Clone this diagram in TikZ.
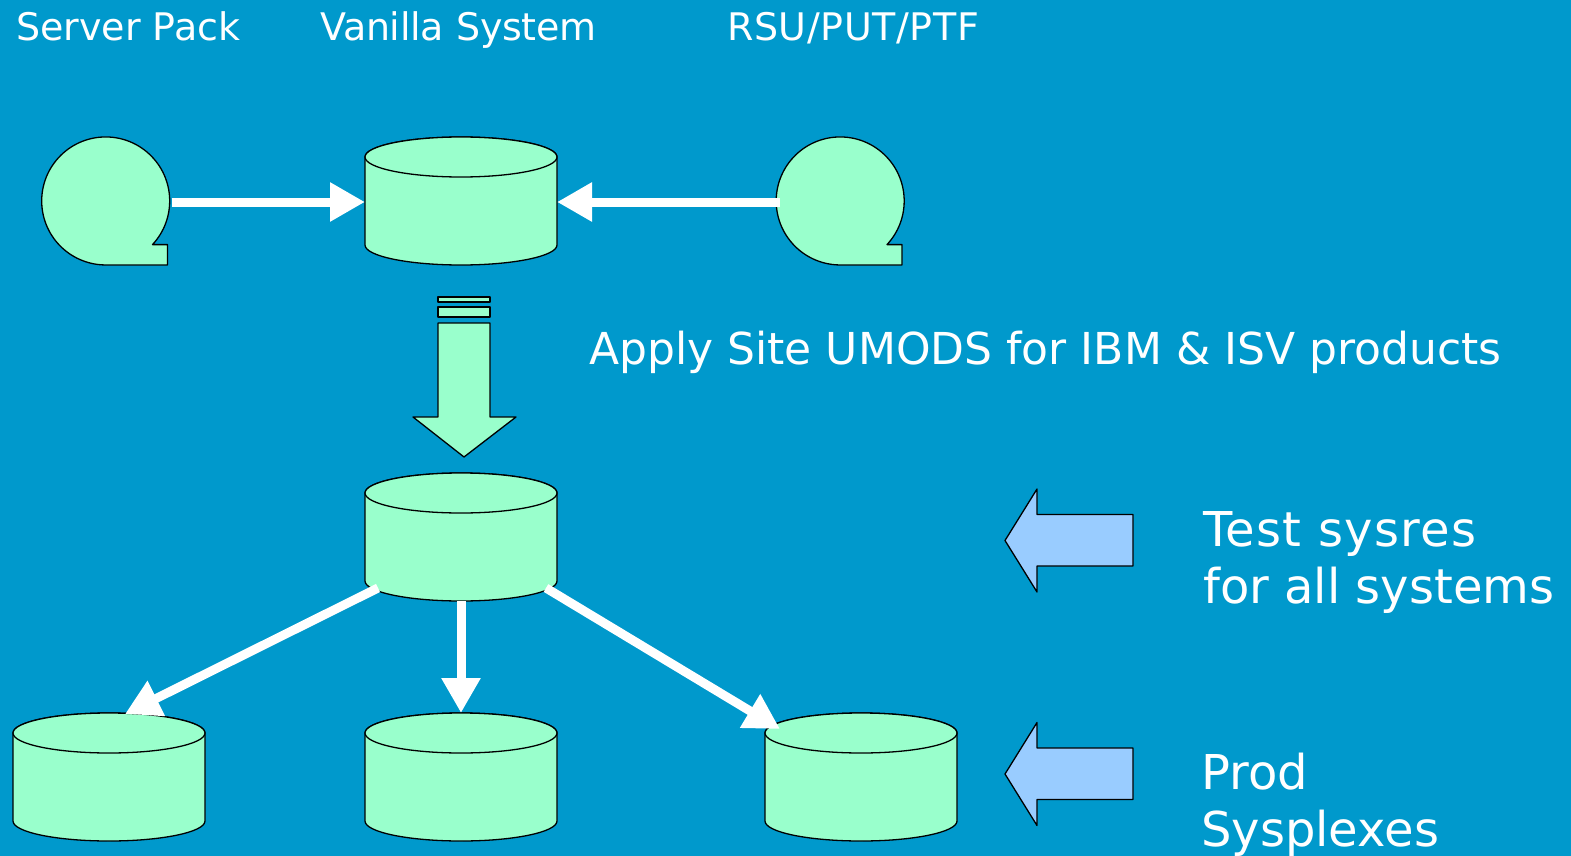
\documentclass[tikz,border=0pt]{standalone}
\usepackage{fontspec}
\setmainfont{DejaVu Sans}
\usetikzlibrary{arrows.meta,calc}
\definecolor{bgblue}{HTML}{0099CC}
\definecolor{mint}{HTML}{99FFCC}
\definecolor{sky}{HTML}{99CCFF}
\tikzset{
  shapeline/.style={draw=black,line width=1.3pt,line join=round},
  anchorbox/.style={inner sep=0pt,outer sep=0pt,minimum width=192pt,minimum height=128pt},
  tapebox/.style={circle,inner sep=0pt,outer sep=0pt,minimum size=128pt},
  flow/.style={draw=white,line width=9pt,-{Triangle[length=35pt,width=37pt,fill=white]}},
  bigtext/.style={anchor=base west,text=white,font=\fontsize{48}{48}\selectfont,inner sep=0pt},
  midtext/.style={anchor=base west,text=white,font=\fontsize{44}{44}\selectfont,inner sep=0pt},
  smalltext/.style={anchor=base west,text=white,font=\fontsize{38}{38}\selectfont,inner sep=0pt},
}
% cylinder: name, centre x, centre y
\newcommand{\diskcyl}[3]{%
  \node[anchorbox] (#1) at (#2,#3) {};
  \filldraw[shapeline,fill=mint]
    ([yshift=44pt]#1.west) -- ([yshift=-44pt]#1.west)
    arc[start angle=180,end angle=360,x radius=96pt,y radius=20pt]
    -- ([yshift=44pt]#1.east)
    arc[start angle=0,end angle=180,x radius=96pt,y radius=20pt] -- cycle;
  \filldraw[shapeline,fill=mint]
    ([yshift=44pt]#1.west)
    arc[start angle=180,end angle=540,x radius=96pt,y radius=20pt];
}
% tape reel: name, centre x, centre y
\newcommand{\tapereel}[3]{%
  \node[tapebox] (#1) at (#2,#3) {};
  \filldraw[shapeline,fill=mint]
    (#2,#3+64) -- (#2+62,#3+64) -- (#2+62,#3+43.6) -- (#2+47,#3+43.6)
    arc[start angle=-43,end angle=270,radius=64pt] -- cycle;
}
\begin{document}
\begin{tikzpicture}[x=1pt,y=-1pt]
\useasboundingbox (0,0) rectangle (1571,856);
\fill[bgblue] (0,0) rectangle (1571,856);

\node[smalltext] (serverpack) at (16,41) {Server Pack};
\node[smalltext] (vanilla) at (320,41) {\addfontfeature{LetterSpace=-0.6}Vanilla System};
\node[smalltext] (rsu) at (727,41) {\addfontfeature{LetterSpace=1.6}RSU/PUT/PTF};
\node[midtext] (apply) at (589,364) {Apply Site UMODS for IBM \& ISV products};
\node[bigtext] (test1) at (1203,546) {\addfontfeature{LetterSpace=2.7}Test sysres};
\node[bigtext] (test2) at (1203,603) {for all systems};
\node[bigtext] (prod1) at (1201,789) {Prod};
\node[bigtext] (prod2) at (1201,846) {Sysplexes};

\tapereel{tapeA}{105.5}{201}
\tapereel{tapeB}{840}{201}
\diskcyl{vanillaDisk}{461}{201}
\diskcyl{testDisk}{461}{537}
\diskcyl{prodA}{109}{777}
\diskcyl{prodB}{461}{777}
\diskcyl{prodC}{861}{777}

% striped block arrow
\filldraw[shapeline,fill=mint] (438,297) rectangle (490,302);
\filldraw[shapeline,fill=mint] (438,307) rectangle (490,317);
\filldraw[shapeline,fill=mint] (438,323) -- (490,323) -- (490,417) -- (516,417) -- (464,457) -- (413,417) -- (438,417) -- cycle;

% blue arrows
\filldraw[shapeline,fill=sky] (1005,540.5) -- (1037,489) -- (1037,514.5) -- (1133,514.5) -- (1133,566) -- (1037,566) -- (1037,592) -- cycle;
\filldraw[shapeline,fill=sky] (1005,774) -- (1037,722.5) -- (1037,748) -- (1133,748) -- (1133,799.5) -- (1037,799.5) -- (1037,825.5) -- cycle;

% connectors
\draw[flow] ([shift={(2,1)}]tapeA.east) -- ([shift={(0,1)}]vanillaDisk.west);
\draw[flow] ([shift={(4,1)}]tapeB.west) -- ([shift={(0,1)}]vanillaDisk.east);
\draw[flow] ([shift={(13,-13)}]testDisk.south west) -- ([shift={(16,1)}]prodA.north);
\draw[flow] (testDisk.south) -- (prodB.north);
\draw[flow] ([shift={(-11,-13)}]testDisk.south east) -- ([shift={(-81,16)}]prodC.north);
\end{tikzpicture}
\end{document}
